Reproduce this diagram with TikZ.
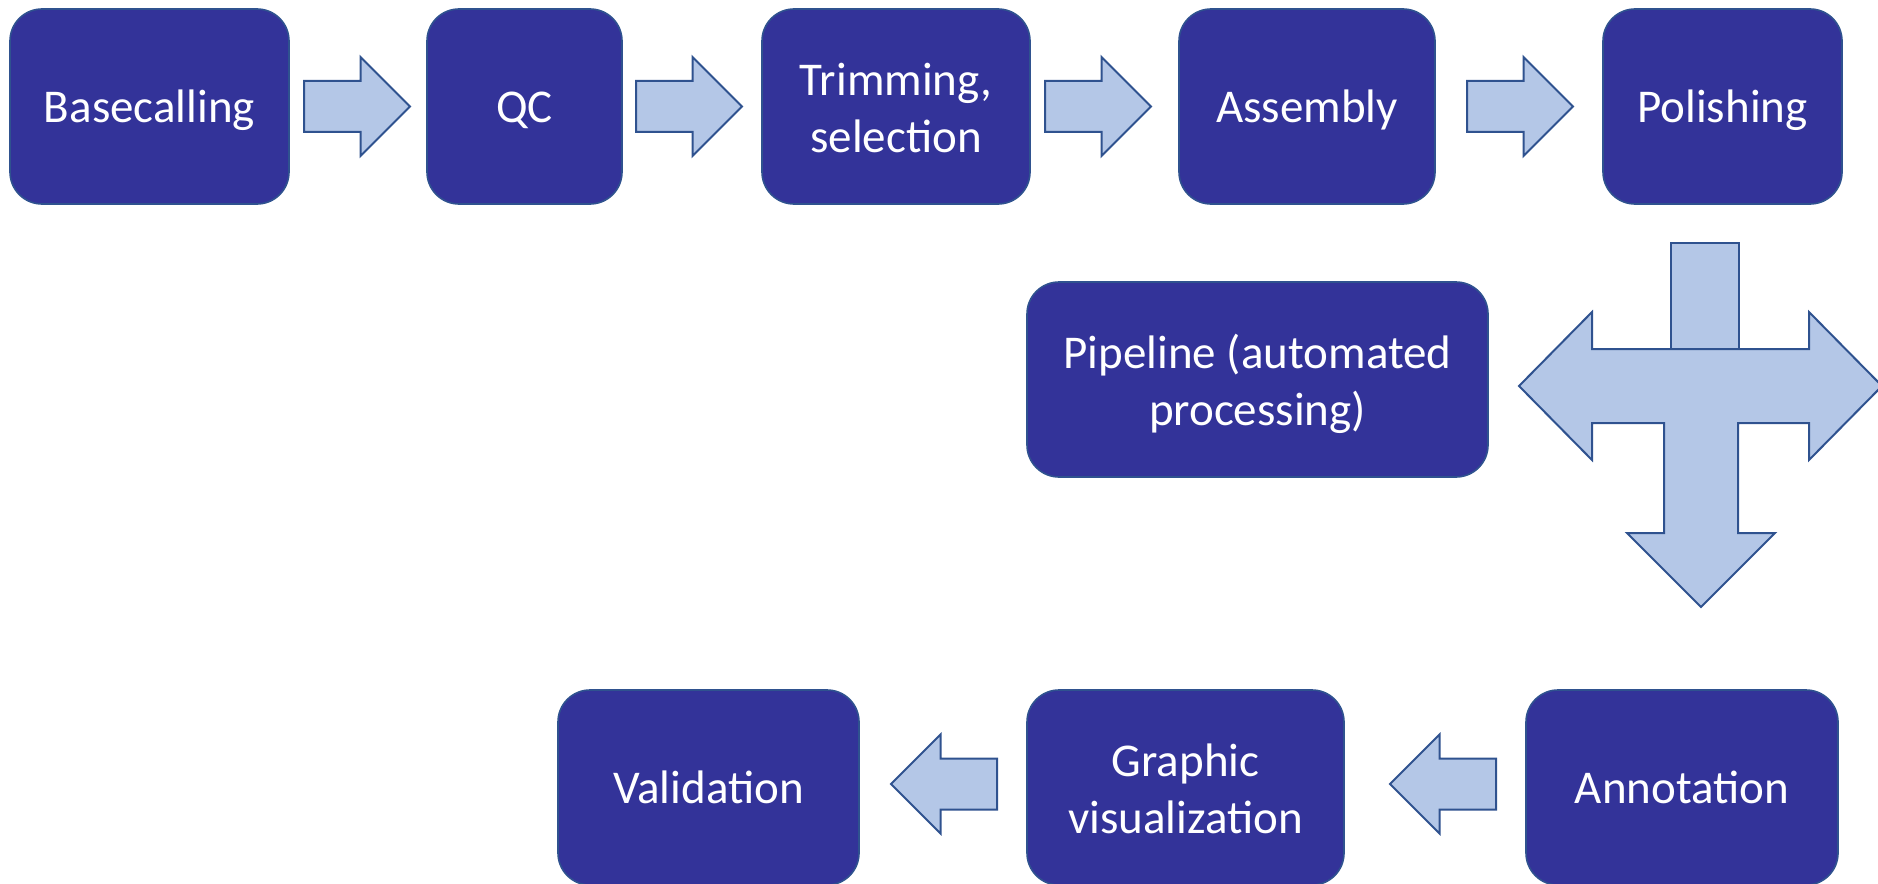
\documentclass[tikz,border=0pt]{standalone}
\usepackage{fontspec}
\setmainfont{Carlito}
\usetikzlibrary{shapes.arrows}
\definecolor{boxblue}{RGB}{51,51,153}
\definecolor{edgeblue}{RGB}{47,82,143}
\definecolor{arrowblue}{RGB}{180,199,231}
\begin{document}
\begin{tikzpicture}[x=0.5pt, y=-0.5pt,
  stage/.style={rectangle, rounded corners=16pt, fill=boxblue, draw=edgeblue, line width=0.8pt,
    text=white, align=center, minimum height=97.5pt, inner sep=0pt,
    text height=20pt, text depth=4.4pt, font=\fontsize{23.5}{28.5}\selectfont},
  twoline/.style={text height=50.5pt},
  flowarrow/.style={single arrow, fill=arrowblue, draw=edgeblue, line width=1pt,
    inner xsep=0pt, inner ysep=12.25pt, minimum height=53pt, minimum width=48.5pt,
    single arrow head extend=12pt, single arrow head indent=0pt, anchor=tail}]
\useasboundingbox (0,0) rectangle (1878,883);
\node[stage, minimum width=139.5pt] (base) at (149.5,106.5){Basecalling};
\node[stage, minimum width=97.5pt] (qc) at (524.5,106.5){QC};
\node[stage, twoline, minimum width=134pt] (trim) at (896,106.5){Trimming,\\selection};
\node[stage, minimum width=128pt] (asm) at (1307,106.5){Assembly};
\node[stage, minimum width=119.5pt] (pol) at (1722.5,106.5){Polishing};
\node[stage, twoline, minimum width=230.5pt] (pipe) at (1257.5,379.5){Pipeline (automated\\processing)};
\node[stage, minimum width=156pt] (annot) at (1682,787.5){Annotation};
\node[stage, twoline, minimum width=158.5pt] (gviz) at (1185.5,787.5){Graphic\\visualization};
\node[stage, minimum width=150.5pt] (valid) at (708.5,787.5){Validation};
\node[flowarrow] (ar1) at (303,106.5){};
\node[flowarrow] (ar2) at (635,106.5){};
\node[flowarrow] (ar3) at (1044,106.5){};
\node[flowarrow] (ar4) at (1466,106.5){};
\node[flowarrow, shape border rotate=180] (ar5) at (1497,784){};
\node[flowarrow, shape border rotate=180] (ar6) at (998,784){};
\draw[fill=arrowblue, draw=edgeblue, line width=1pt, line join=miter]
  (1519,386) -- (1592,312) -- (1592,349) -- (1809,349) -- (1809,312) -- (1882,386)
  -- (1809,460) -- (1809,423) -- (1738,423) -- (1738,533) -- (1775,533) -- (1701,607)
  -- (1627,533) -- (1664,533) -- (1664,423) -- (1592,423) -- (1592,460) -- cycle;
\draw[fill=arrowblue, draw=edgeblue, line width=1pt] (1671,243) rectangle (1739,349);
\end{tikzpicture}
\end{document}
